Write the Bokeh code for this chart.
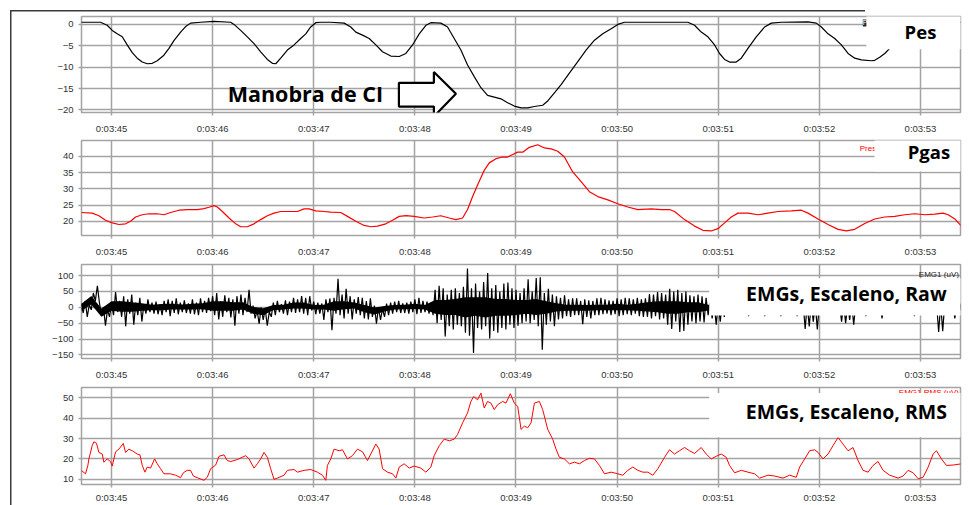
from bokeh.plotting import figure
from bokeh.models import Range1d, FixedTicker, BoxAnnotation, PolyAnnotation, Label
from bokeh.layouts import column
from bokeh.embed import file_html
from bokeh.resources import INLINE

# ---------------- data ----------------
tick_secs = [45, 46, 47, 48, 49, 50, 51, 52, 53]
tick_labels = ["0:03:45", "0:03:46", "0:03:47", "0:03:48", "0:03:49",
               "0:03:50", "0:03:51", "0:03:52", "0:03:53"]

pes_yticks = [0, -5, -10, -15, -20]
pgas_yticks = [20, 25, 30, 35, 40]
raw_yticks = [100, 50, 0, -50, -100, -150]
rms_yticks = [10, 20, 30, 40, 50]

pes_t = [44.70, 44.891, 44.957, 45.007, 45.056, 45.106, 45.155, 45.205, 45.254, 45.304,
         45.353, 45.403, 45.452, 45.518, 45.568, 45.617, 45.683, 45.733, 45.782, 45.881,
         46.013, 46.178, 46.211, 46.277, 46.343, 46.409, 46.475, 46.541, 46.591, 46.624,
         46.673, 46.739, 46.805, 46.871, 46.921, 46.970, 47.020, 47.069, 47.168,
         47.300, 47.366, 47.416, 47.482, 47.548, 47.614, 47.680, 47.762, 47.845, 47.911,
         47.977, 48.043, 48.109, 48.158, 48.257, 48.323, 48.389, 48.455, 48.521, 48.587,
         48.653, 48.719, 48.785, 48.851, 48.917, 48.983, 49.050, 49.116, 49.182, 49.264,
         49.314, 49.380, 49.446, 49.528, 49.611, 49.693, 49.776, 49.858, 49.941, 50.007,
         50.073, 50.205,
         50.700, 50.766, 50.832, 50.898, 50.964, 51.013, 51.063, 51.112, 51.178, 51.228,
         51.294, 51.376, 51.459, 51.525, 51.624, 51.888, 51.970, 52.020, 52.086, 52.152,
         52.218, 52.284, 52.350, 52.416, 52.515, 52.548, 52.597, 52.647, 52.696, 52.779,
         52.878, 53.010, 53.406]
pes_v = [0.5, 0.5, -0.2, -1.4, -2.2, -2.9, -4.8, -6.6, -7.9, -8.8,
         -9.2, -9.1, -8.5, -7.2, -5.6, -3.8, -1.8, -0.5, 0.3, 0.5,
         0.7, 0.5, 0.0, -1.4, -2.9, -4.5, -6.4, -8.2, -9.1, -9.2,
         -7.9, -6.0, -4.8, -3.3, -2.2, -0.6, 0.4, 0.5, 0.5,
         0.3, -0.6, -1.8, -2.5, -3.3, -4.8, -6.4, -7.4, -7.5, -6.8,
         -4.8, -2.2, -0.2, 0.4, 0.3, -0.6, -3.3, -6.0, -9.5, -12.2,
         -14.8, -16.6, -17.0, -17.4, -18.3, -19.1, -19.5, -19.5, -19.2, -18.9,
         -17.9, -16.0, -14.1, -11.4, -8.7, -6.0, -3.7, -2.2, -1.0, 0.0,
         0.5, 0.5,
         0.5, -0.2, -1.8, -2.9, -4.8, -6.8, -8.2, -8.8, -8.8, -7.9,
         -5.6, -2.9, -0.6, 0.3, 0.5, 0.6, 0.3, -0.6, -2.2, -3.3,
         -4.8, -6.8, -7.9, -8.3, -8.5, -8.4, -7.7, -6.8, -5.6, -3.7,
         -1.4, 0.2, 0.5]

pgas_t = [44.70, 44.809, 44.875, 44.941, 45.007, 45.073, 45.139, 45.188, 45.238, 45.304,
          45.370, 45.452, 45.518, 45.584, 45.667, 45.749, 45.848, 45.914, 45.964, 46.013,
          46.046, 46.096, 46.162, 46.228, 46.277, 46.343, 46.409, 46.475, 46.541, 46.607,
          46.673, 46.772, 46.838, 46.904, 46.954, 47.020, 47.102, 47.168,
          47.267, 47.333, 47.416, 47.498, 47.564, 47.630, 47.713, 47.779, 47.845, 47.911,
          47.993, 48.092, 48.175, 48.257, 48.340, 48.406, 48.472, 48.521, 48.571, 48.620,
          48.686, 48.736, 48.802, 48.868, 48.917, 48.967, 49.017, 49.066, 49.132, 49.215,
          49.281, 49.347, 49.413, 49.479, 49.561, 49.644, 49.726, 49.809, 49.908, 50.007,
          50.106, 50.205,
          50.337, 50.436, 50.518, 50.568, 50.667, 50.766, 50.848, 50.931, 50.997, 51.063,
          51.129, 51.195, 51.294, 51.393, 51.492, 51.591, 51.723, 51.822, 51.888, 51.987,
          52.086, 52.185, 52.267, 52.350, 52.449, 52.548, 52.647, 52.746, 52.845, 52.944,
          53.043, 53.142, 53.224, 53.274, 53.340, 53.406]
pgas_v = [22.7, 22.5, 21.7, 20.3, 19.5, 19.0, 19.2, 20.0, 21.3, 22.0,
          22.3, 22.3, 22.0, 22.7, 23.4, 23.6, 23.6, 23.9, 24.3, 24.8,
          24.4, 23.0, 21.0, 19.2, 18.3, 18.3, 19.2, 20.5, 21.7, 22.5,
          23.0, 23.0, 23.0, 23.8, 23.8, 23.2, 23.0, 22.8,
          22.7, 21.5, 20.0, 18.7, 18.3, 18.5, 19.2, 20.3, 21.5, 21.7,
          21.5, 21.0, 21.3, 21.7, 21.0, 20.5, 21.0, 23.6, 27.6, 31.2,
          35.7, 38.0, 39.3, 39.8, 39.8, 40.6, 41.3, 41.3, 42.8, 43.6,
          42.6, 42.3, 41.6, 39.8, 35.2, 32.2, 29.1, 27.6, 26.6, 25.4,
          24.4, 23.6,
          23.8, 23.6, 23.6, 23.0, 20.5, 18.5, 17.2, 17.0, 17.7, 19.5,
          21.3, 22.5, 22.5, 22.0, 22.5, 23.0, 23.2, 23.4, 22.5, 20.7,
          19.0, 17.5, 17.0, 17.5, 19.3, 20.7, 21.3, 21.5, 22.0, 22.3,
          22.0, 22.2, 22.5, 22.0, 20.7, 18.5]

# raw EMG, one sample every 0.02 s starting at 44.70 s
emg_start = 44.70
emg_step = 0.02
emg_raw = [
    12, -18, 20, -30, 8,      -8, 45, 20, 68, 15,       -25, 0, -58, -8, -30,
    10, -25, 48, -15, 20,     -30, 35, -60, 25, -20,    40, -55, 15, -25, 30,
    -45, 10, -20, 25, -15,    15, -20, 18, -22, 10,     -25, 20, -15, 25, -28,
    20, -18, 28, -22, 15,     -15, 22, -18, 12, -20,    25, -22, 15, -25, 28,
    -15, 20, -18, 30, -12,    35, -25, 45, -38, 20,     -30, 38, -15, 30, -32,
    25, -58, 35, -20, 40,     -25, 30, -15, 55, -20,    5, -35, -10, -52, 0,
    -40, -5, -58, -15, -30,   15, -25, 20, -15, 10,     -20, 22, -25, 18, -15,
    30, -18, 25, -15, 35,     -20, 30, -25, 35, -10,    18, -22, 15, -20, 12,
    -40, 25, -15, 28, -72,    30, -20, 90, -25, 40,     -35, 58, -20, 35, -38,
    25, -20, 32, -25, 30,     -35, 20, -38, 28, -30,    5, -52, 0, -40, -5,
    -30, 12, -25, 15, -20,    18, -15, 20, -18, 12,     -18, 15, -20, 18, -15,
    25, -22, 30, -18, 20,     -15, 18, -20, 15, -25,    55, -50, 68, -40, 60,
    -92, 40, -60, 55, -70,    60, -55, 45, -60, 65,     -80, 122, -90, 60, -144,
    75, -65, 50, -70, 80,     -60, 108, -98, 60, -75,   70, -80, 50, -65, 75,
    -70, 78, -55, 60, -65,    55, -58, 45, -50, 60,     -45, 88, -50, 50, -40,
    92, -60, 95, -134, 45,    -55, 58, -45, 40, -60,    35, -38, 30, -35, 38,
    -28, 25, -30, 28, -25,    28, -25, 20, -53, 25,     -30, 22, -35, 20, -25,
    28, -25, 30, -22, 25,     -20, 22, -25, 20, -22,    28, -28, 25, -25, 30,
    -22, 28, -25, 25, -20,    30, -28, 25, -30, 28,     -30, 42, -35, 40, -28,
    48, -38, 45, -35, 40,     -55, 58, -68, 50, -45,    55, -78, 45, -75, 50,
    -55, 38, -45, 35, -50,    40, -45, 35, -48, 30,     -25, 15, -35, 12, -55,
    10, -45, 15, -30, 12,     -18, 15, -20, 12, -15,    12, -15, 10, -18, 12,
    -28, 10, -15, 12, -20,    10, -15, 12, -28, 10,     -15, 12, -18, 10, -15,
    12, -28, 10, -15, 12,     -18, 10, -15, 12, -28,    10, -15, 12, -68, 10,
    -60, 12, -45, 10, -70,    12, -18, 10, -15, 12,     -20, 10, -15, 12, -18,
    10, -45, 12, -50, 10,     -40, 12, -55, 10, -15,    12, -18, 10, -28, 12,
    -15, 10, -18, 12, -15,    10, -35, 12, -15, 10,     -18, 10, -15, 12, -18,
    12, -15, 10, -18, 12,     -15, 12, -28, 10, -15,    10, -18, 12, -15, 10,
    -15, 12, -18, 10, -78,    10, -75, 12, -18, 10,     -15, 12, -35, 10, -15,
    12]
emg_t = [emg_start + emg_step * i for i in range(len(emg_raw))]

# dense core band of the raw EMG, one pair every 0.1 s from 44.70 s
core_step = 0.1
core_lo = [-11, 9, -30, -11, -14, -14, -11, -9, -9, -7,
           -7, -7, -6, -11, -11, -11, -7, -20, -25, -9,
           -7, -4, -4, -7, -7, -11, -6, -4, -16, -23,
           -13, -7, -6, -5, -7, -20, -24, -24, -32, -27,
           -32, -27, -27, -24, -20, -24, -20, -13, -11, -11,
           -11, -9, -9, -9, -9, -11, -13, -16, -20, -20,
           -16, -16, -10, -10, -10, -10, -10, -10, -10, -10,
           -10, -10, -10, -10, -10, -10, -10, -10, -10, -10,
           -10, -10, -10, -10, -10, -10, -10, -10]
core_hi = [10, 36, -4, 19, 19, 16, 13, 8, 10, 11,
           9, 11, 13, 19, 19, 16, 16, 1, -3, 7,
           8, 15, 15, 7, 8, 19, 19, 15, 7, -1,
           4, 7, 8, 11, 7, 23, 23, 26, 32, 32,
           32, 26, 26, 23, 23, 26, 19, 13, 8, 8,
           7, 8, 8, 11, 8, 11, 16, 19, 19, 19,
           16, 16, 8, 8, 8, 8, 8, 8, 8, 8,
           8, 8, 8, 8, 8, 8, 8, 8, 8, 8,
           8, 8, 8, 8, 8, 8, 8, 8]
core_t = [emg_start + core_step * i for i in range(len(core_lo))]

rms_t = [44.70, 44.743, 44.766, 44.776, 44.809, 44.825, 44.851, 44.875, 44.908, 44.924,
         44.957, 44.990, 45.007, 45.040, 45.073, 45.116, 45.139, 45.172, 45.205, 45.254,
         45.281, 45.304, 45.330, 45.353, 45.386, 45.426, 45.452, 45.485, 45.518, 45.584,
         45.634, 45.683, 45.710, 45.749, 45.782, 45.809, 45.848, 45.914, 45.947, 45.980,
         46.030, 46.063, 46.112, 46.145, 46.178, 46.244, 46.327, 46.360, 46.409, 46.442,
         46.475, 46.508, 46.541, 46.574, 46.607, 46.640, 46.706, 46.739, 46.805, 46.838,
         46.904, 46.970, 47.036, 47.086, 47.119, 47.135, 47.168,
         47.201, 47.251, 47.284, 47.333, 47.383, 47.432, 47.482, 47.531, 47.564, 47.614,
         47.647, 47.680, 47.729, 47.779, 47.812, 47.845, 47.894, 47.944, 47.993, 48.059,
         48.109, 48.158, 48.191, 48.241, 48.290, 48.340, 48.389, 48.422, 48.472, 48.521,
         48.554, 48.581, 48.620, 48.653, 48.686, 48.719, 48.752, 48.785, 48.818, 48.868,
         48.901, 48.944, 48.983, 49.017, 49.050, 49.083, 49.116, 49.149, 49.182, 49.231,
         49.264, 49.314, 49.363, 49.396, 49.429, 49.479, 49.528, 49.578, 49.627, 49.677,
         49.726, 49.776, 49.825, 49.875, 49.941, 50.007, 50.056, 50.106, 50.155, 50.205,
         50.254,
         50.304, 50.353, 50.403, 50.469, 50.518, 50.568, 50.617, 50.667, 50.716, 50.766,
         50.832, 50.881, 50.931, 50.980, 51.030, 51.079, 51.112, 51.162, 51.228, 51.294,
         51.360, 51.409, 51.492, 51.558, 51.640, 51.706, 51.772, 51.805, 51.855, 51.904,
         51.954, 51.987, 52.036, 52.086, 52.135, 52.185, 52.234, 52.284, 52.333, 52.383,
         52.432, 52.482, 52.531, 52.581, 52.630, 52.696, 52.779, 52.828, 52.878, 52.927,
         52.977, 53.026, 53.076, 53.125, 53.158, 53.208, 53.257, 53.323, 53.406]
rms_v = [14.4, 12.7, 16.8, 20.0, 26.5, 28.4, 27.7, 23.2, 22.4, 18.4,
         20.0, 18.7, 16.5, 23.5, 24.8, 27.6, 23.2, 24.8, 24.0, 22.4,
         22.0, 16.8, 13.5, 16.0, 15.5, 20.0, 17.6, 15.2, 12.7, 12.7,
         12.0, 10.8, 13.2, 14.4, 14.4, 11.6, 10.8, 9.5, 11.0, 15.2,
         17.0, 21.3, 22.0, 19.2, 18.7, 19.7, 21.6, 20.0, 15.5, 17.6,
         20.0, 23.2, 20.8, 15.2, 10.0, 10.6, 12.0, 14.4, 14.8, 13.5,
         14.4, 14.8, 13.5, 12.0, 9.5, 16.8, 20.0,
         24.8, 24.0, 24.5, 20.0, 21.6, 24.8, 23.5, 19.2, 22.4, 27.3,
         24.8, 15.2, 13.5, 12.7, 10.6, 16.0, 17.6, 15.5, 16.5, 15.5,
         13.5, 16.0, 21.6, 26.5, 29.7, 28.9, 29.7, 32.0, 37.7, 42.6,
         48.2, 50.6, 49.0, 52.3, 45.0, 48.2, 47.4, 44.2, 46.6, 48.2,
         47.4, 52.0, 47.4, 45.8, 34.5, 36.1, 35.3, 37.7, 47.4, 48.2,
         44.2, 34.5, 29.7, 24.8, 20.8, 20.0, 17.6, 18.4, 17.6, 19.2,
         20.3, 20.0, 16.8, 12.7, 13.5, 12.7, 12.0, 14.4, 16.0, 14.4,
         13.5,
         13.5, 12.0, 15.2, 20.8, 24.5, 22.4, 24.0, 25.6, 24.0, 22.7,
         25.6, 22.4, 20.0, 21.3, 22.4, 20.8, 16.8, 13.2, 14.4, 13.5,
         12.7, 10.6, 12.0, 11.6, 10.6, 12.0, 11.0, 16.0, 20.0, 24.0,
         24.5, 23.2, 20.0, 22.4, 26.5, 30.5, 27.3, 24.0, 25.6, 19.2,
         14.4, 13.5, 16.8, 18.7, 14.4, 12.0, 10.6, 11.6, 14.4, 13.2,
         10.3, 11.0, 16.0, 22.4, 24.0, 20.0, 16.8, 17.0, 17.6]

# ---------------- style ----------------
GRID = "#a3a3a3"
X0, X1 = 44.703, 53.396
W = 969
FRAME_LINE = "#3a3a3a"


def make_fig(height, top, bottom, yr, yticks, standoff=7):
    p = figure(width=W, height=height, output_backend="svg", toolbar_location=None,
               x_range=Range1d(X0, X1), y_range=Range1d(*yr),
               min_border_left=81, min_border_right=9,
               min_border_top=top, min_border_bottom=bottom,
               background_fill_color="white", border_fill_color=None)
    p.xaxis.ticker = FixedTicker(ticks=tick_secs)
    p.xaxis.major_label_overrides = {s: l for s, l in zip(tick_secs, tick_labels)}
    p.yaxis.ticker = FixedTicker(ticks=yticks)
    for ax in p.axis:
        ax.axis_line_color = None
        ax.major_tick_line_color = GRID
        ax.major_tick_line_width = 1.5
        ax.major_tick_in = 0
        ax.major_tick_out = 3
        ax.minor_tick_line_color = None
        ax.major_label_text_font = "Liberation Sans"
        ax.major_label_text_font_size = "9.5px"
        ax.major_label_text_color = "#333333"
    p.xaxis.major_label_standoff = standoff
    p.yaxis.major_label_standoff = 5
    p.grid.grid_line_color = GRID
    p.grid.grid_line_width = 1.5
    p.outline_line_color = GRID
    p.outline_line_width = 1.5
    return p


def white_box(p, left, right, bottom, top):
    p.add_layout(BoxAnnotation(left=left, right=right, bottom=bottom, top=top,
                               fill_color="white", fill_alpha=1.0, line_color=None))


def big_label(p, x, y, text, size):
    p.add_layout(Label(x=x, y=y, text=text, text_font="Open Sans", text_font_style="bold",
                       text_font_size=size, text_color="black", text_align="center",
                       text_baseline="alphabetic"))


# ---- panel 1: Pes ----
p1 = make_fig(136, 16, 23, (-20.6, 1.85), pes_yticks)
p1.line(pes_t, pes_v, line_color="black", line_width=1.2)
p1.add_layout(PolyAnnotation(
    xs=[47.842, 48.188, 48.188, 48.406, 48.188, 48.188, 47.842],
    ys=[-13.66, -13.66, -11.11, -16.20, -21.53, -19.21, -19.21],
    fill_color="white", fill_alpha=1.0, line_color="black", line_alpha=1.0,
    line_width=2.2))
p1.add_layout(Label(x=46.149, y=-16.2, text="Manobra de CI", text_font="Open Sans",
                    text_font_style="bold", text_font_size="21.5px", text_color="black",
                    text_baseline="alphabetic"))
p1.add_layout(Label(x=52.43, y=0.35, text="P", text_font="Liberation Sans",
                    text_font_size="7px", text_color="white", text_baseline="middle",
                    background_fill_color="#222222", background_fill_alpha=1.0))
white_box(p1, 52.465, 54.0, -5.79, 4.0)
big_label(p1, 53.0, -1.62, "Pes", "18.5px")

# ---- panel 2: Pgas ----
p2 = make_fig(123, 4, 23, (15.6, 44.9), pgas_yticks)
p2.line(pgas_t, pgas_v, line_color="#ff0000", line_width=1.2)
p2.add_layout(Label(x=52.40, y=43.9, text="Pressure", text_font="Liberation Sans",
                    text_font_size="8px", text_color="#ff0000", text_baseline="top"))
white_box(p2, 52.545, 54.0, 35.35, 48.0)
big_label(p2, 53.084, 41.5, "Pgas", "18.5px")

# ---- panel 3: EMG raw ----
p3 = make_fig(123, 5, 22, (-161.4, 134.9), raw_yticks)
p3.varea(x=core_t, y1=core_lo, y2=core_hi, fill_color="black")
p3.line(emg_t, emg_raw, line_color="black", line_width=1.2)
p3.add_layout(Label(x=53.38, y=104, text="EMG1 (uV)", text_font="Liberation Sans",
                    text_font_size="8px", text_color="#222222", text_align="right",
                    text_baseline="alphabetic"))
white_box(p3, 50.911, 54.0, -26.0, 91.7)
big_label(p3, 52.267, 42.3, "EMGs, Escaleno, Raw", "19.5px")

# ---- panel 4: EMG RMS ----
p4 = make_fig(123, 5, 19, (7.45, 55.05), rms_yticks, standoff=4)
p4.line(rms_t, rms_v, line_color="#ff0000", line_width=1.0)
p4.add_layout(Label(x=53.38, y=54.6, text="EMG1 RMS (uV)", text_font="Liberation Sans",
                    text_font_size="8px", text_color="#ff0000", text_align="right",
                    text_baseline="top"))
white_box(p4, 50.911, 54.0, 30.6, 52.4)
big_label(p4, 52.267, 43.5, "EMGs, Escaleno, RMS", "19.5px")

outer_frame = ("linear-gradient({c},{c}) 10px 10px / 1.5px 495px no-repeat, "
               "linear-gradient({c},{c}) 10px 10px / 855px 1.5px no-repeat, white"
               ).format(c=FRAME_LINE)
layout = column(p1, p2, p3, p4, styles={"background": outer_frame})

open("out.html", "w").write(file_html(layout, INLINE))
